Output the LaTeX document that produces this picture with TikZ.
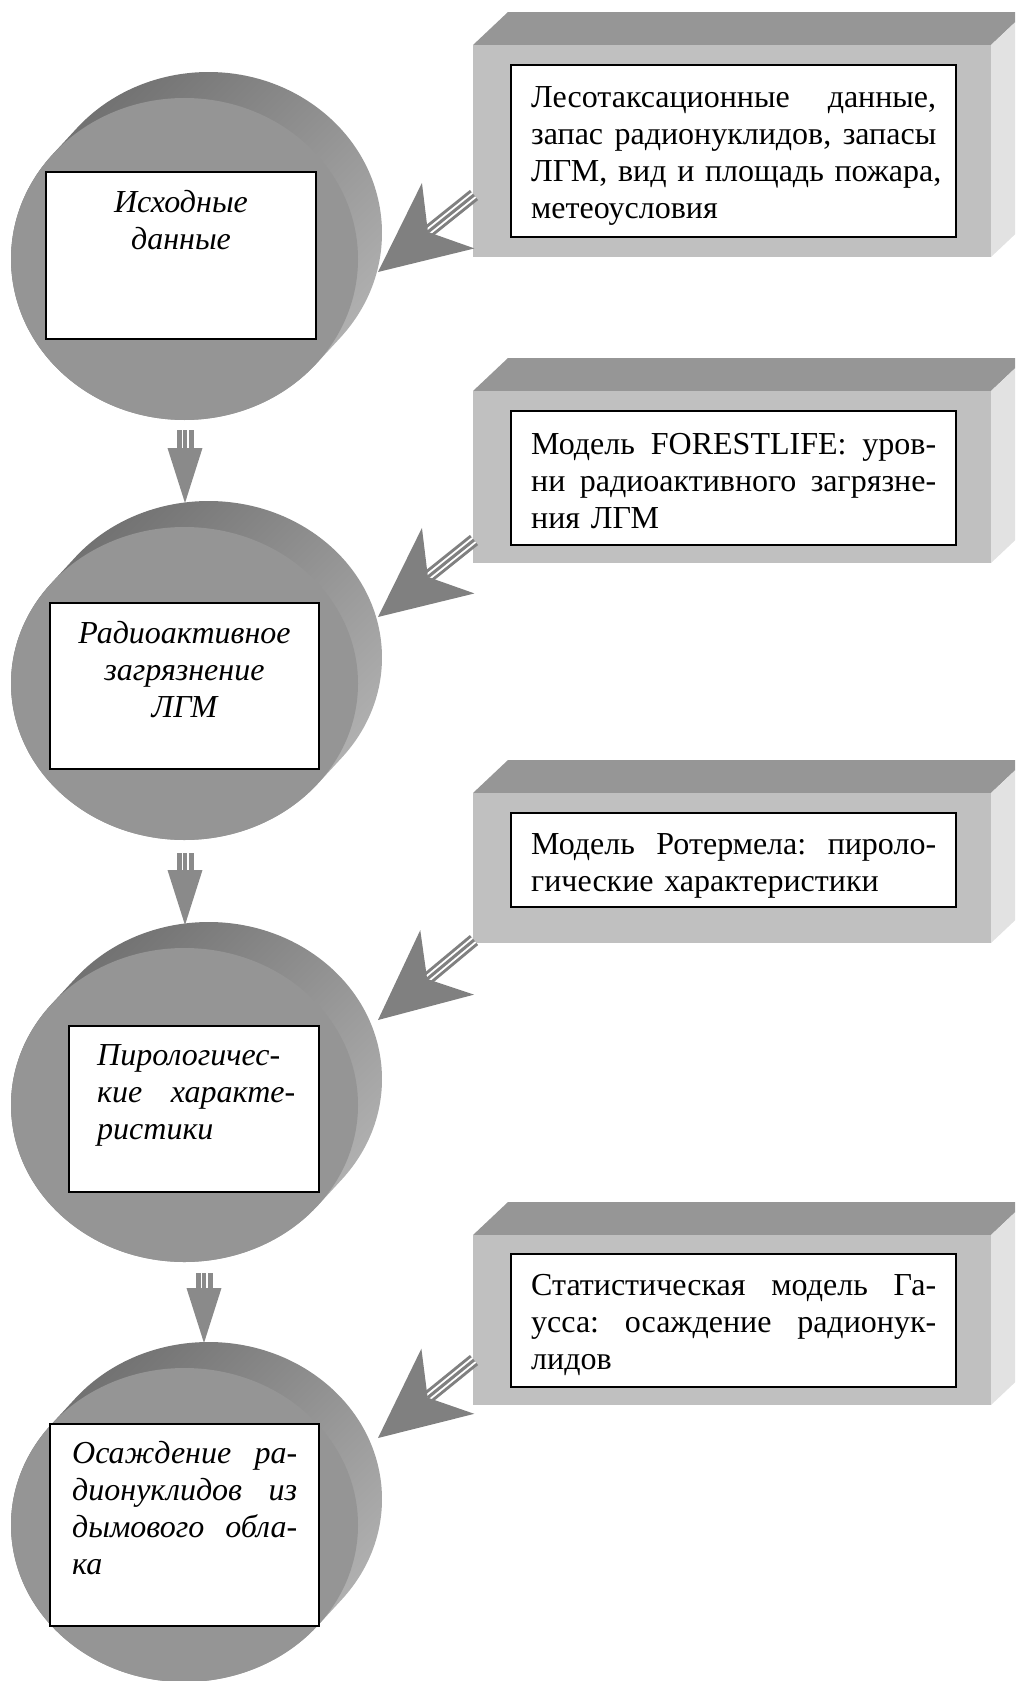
\documentclass[tikz,border=0pt]{standalone}
\usepackage{fontspec}
\setmainfont{Liberation Serif}
\usetikzlibrary{calc}
\definecolor{cylfront}{HTML}{959595}
\definecolor{cyldark}{HTML}{6C6C6C}
\definecolor{cyllight}{HTML}{B6B6B6}
\definecolor{boxfront}{HTML}{C0C0C0}
\definecolor{boxtop}{HTML}{969696}
\definecolor{boxside}{HTML}{E2E2E2}
\definecolor{arrowgray}{HTML}{808080}
\definecolor{downgray}{HTML}{8A8A8A}

% justified line: width, text (use \hfill between words)
\newcommand\jline[2]{\leavevmode\hbox to #1{#2}\\}

% cylinder: name, cx, cy (front disk centre), ry
\newcommand\mycyl[4]{%
  \coordinate (#1) at (#2,#3);
  \pgfmathsetmacro\ta{atan2(24*#4,-26*173.5)}%
  \pgfmathsetmacro\px{173.5*cos(\ta)}%
  \pgfmathsetmacro\py{#4*sin(\ta)}%
  \shade[top color=cyldark,bottom color=cyllight,shading angle=45]
    ([shift={(\px pt,\py pt)}]#1) -- ++(24pt,26pt)
    arc[start angle=\ta, end angle=\ta-180, x radius=173.5pt, y radius=#4pt]
    -- ++(-24pt,-26pt)
    arc[start angle=\ta-180, end angle=\ta-360, x radius=173.5pt, y radius=#4pt] -- cycle;
  \fill[cylfront] (#1) ellipse[x radius=173.5pt, y radius=#4pt];
}

% 3D box: name, x1, y1, x2, y2 (front face)
\newcommand\mybox[5]{%
  \fill[boxtop] (#2,#3) -- (#2+35,#3-33) -- (#4+35,#3-33) -- (#4,#3) -- cycle;
  \fill[boxside] (#4,#3) -- (#4+35,#3-33) -- (#4+35,#5-33) -- (#4,#5) -- cycle;
  \node[fill=boxfront,inner sep=0pt,minimum width=#4-#2,minimum height=#5-#3] (#1) at ({(#2+#4)/2},{(#3+#5)/2}) {};
}

% fat arrow: tail, tip, shaft width, barb distance, barb angle, notch, colour
\newcommand\fatarrow[7]{%
  \coordinate (#2-n) at ($(#2)!#6!(#1)$);
  \draw[#7,line width=#3] (#1) -- (#2-n);
  \draw[white,line width=1.8pt] ($(#1)!2.6pt!90:(#2-n)$) -- ($(#2-n)!2.6pt!-90:(#1)$);
  \draw[white,line width=1.8pt] ($(#1)!2.6pt!-90:(#2-n)$) -- ($(#2-n)!2.6pt!90:(#1)$);
  \fill[#7] (#2) -- ($(#2)!#4!#5:(#1)$) -- (#2-n) -- ($(#2)!#4!-#5:(#1)$) -- cycle;
}

\begin{document}
\frenchspacing
\begin{tikzpicture}[x=1pt,y=-1pt,
  cylbox/.style={draw=black,line width=1.6pt,fill=white,inner sep=0pt},
  innerbox/.style={draw=black,line width=1.4pt,fill=white,inner sep=0pt},
  cyltext/.style={font=\fontsize{32}{37}\selectfont\itshape,inner sep=0pt},
  boxtext/.style={font=\fontsize{32}{37}\selectfont,inner sep=0pt,text width=405pt,align=left,anchor=base west}]
\useasboundingbox (0,0) rectangle (1015,1681);
\clip (0,0) rectangle (1015,1681);

% cylinders
\mycyl{cy1}{184.5}{259}{161}
\mycyl{cy2}{184.5}{683.5}{156.5}
\mycyl{cy3}{184.5}{1105}{157}
\mycyl{cy4}{184.5}{1525}{157}

% boxes in cylinders
\node[cylbox,minimum width=270pt,minimum height=167pt] (c1) at (181,255.5) {};
\node[cylbox,minimum width=269pt,minimum height=166pt] (c2) at (184.5,686) {};
\node[cylbox,minimum width=250pt,minimum height=166pt] (c3) at (194,1109) {};
\node[cylbox,minimum width=269pt,minimum height=202pt] (c4) at (184.5,1525) {};

\node[cyltext,anchor=base,align=center,text width=250pt] (c1t) at (181,212) {Исходные\\данные};
\node[cyltext,anchor=base,align=center,text width=250pt] (c2t) at (184.5,643) {Радиоактивное\\загрязнение\\ЛГМ};
\node[cyltext,anchor=base west,align=left,text width=198pt] (c3t) at (97,1065)
  {Пирологичес-\\\jline{198pt}{кие \hfill характе-}ристики};
\node[cyltext,anchor=base west,align=left,text width=225pt] (c4t) at (72,1463)
  {\jline{225pt}{Осаждение \hfill ра-}\jline{225pt}{дионуклидов \hfill из}\jline{225pt}{дымового \hfill обла-}ка};

% 3D boxes
\mybox{f1}{473}{45}{991}{257}
\mybox{f2}{473}{391}{991}{563}
\mybox{f3}{473}{793}{991}{943}
\mybox{f4}{473}{1235}{991}{1405}

\node[innerbox,minimum width=445pt,minimum height=172pt] (b1) at (733.5,151) {};
\node[innerbox,minimum width=445pt,minimum height=134pt] (b2) at (733.5,478) {};
\node[innerbox,minimum width=445pt,minimum height=94pt] (b3) at (733.5,860) {};
\node[innerbox,minimum width=445pt,minimum height=133pt] (b4) at (733.5,1320.5) {};

\node[boxtext] (b1t) at (531,107)
  {\jline{405pt}{Лесотаксационные \hfill данные,}\jline{405pt}{запас \hfill радионуклидов, \hfill запасы}\jline{405pt}{ЛГМ, \hfill вид \hfill и \hfill площадь \hfill пожара,}метеоусловия};
\node[boxtext] (b2t) at (531,454)
  {\jline{405pt}{Модель \hfill FORESTLIFE: \hfill уров-}\jline{405pt}{ни \hfill радиоактивного \hfill загрязне-}ния ЛГМ};
\node[boxtext] (b3t) at (531,854)
  {\jline{405pt}{Модель \hfill Ротермела: \hfill пироло-}гические характеристики};
\node[boxtext] (b4t) at (531,1295)
  {\jline{405pt}{Статистическая \hfill модель \hfill Га-}\jline{405pt}{усса: \hfill осаждение \hfill радионук-}лидов};

% arrows from boxes to cylinders
\coordinate (a1s) at (474,195);  \coordinate (a1t) at (378,272);
\coordinate (a2s) at (474,540);  \coordinate (a2t) at (378,617);
\coordinate (a3s) at (474,940);  \coordinate (a3t) at (378,1020);
\coordinate (a4s) at (474,1360); \coordinate (a4t) at (378,1438);
\fatarrow{a1s}{a1t}{13pt}{99.3pt}{25}{64pt}{arrowgray}
\fatarrow{a2s}{a2t}{13pt}{99.3pt}{25}{64pt}{arrowgray}
\fatarrow{a3s}{a3t}{13pt}{99.3pt}{25}{64pt}{arrowgray}
\fatarrow{a4s}{a4t}{13pt}{99.3pt}{25}{64pt}{arrowgray}

% arrows between cylinders
\coordinate (d1s) at (185,430);  \coordinate (d1t) at (185,503);
\coordinate (d2s) at (185,853);  \coordinate (d2t) at (185,925);
\coordinate (d3s) at (204,1273); \coordinate (d3t) at (204,1343);
\fatarrow{d1s}{d1t}{17pt}{57.7pt}{17.65}{55pt}{downgray}
\fatarrow{d2s}{d2t}{17pt}{57.7pt}{17.65}{55pt}{downgray}
\fatarrow{d3s}{d3t}{17pt}{57.7pt}{17.65}{55pt}{downgray}
\end{tikzpicture}
\end{document}
